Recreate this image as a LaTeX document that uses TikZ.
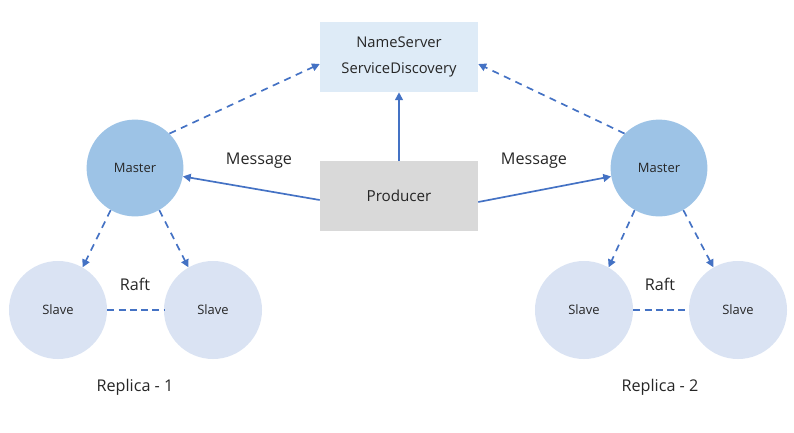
\documentclass[tikz,border=0pt]{standalone}
\usepackage{fontspec}
\setmainfont{Open Sans}
\usetikzlibrary{arrows.meta}
\definecolor{linkblue}{HTML}{4472C4}
\definecolor{masterfill}{HTML}{9DC3E6}
\definecolor{slavefill}{HTML}{DAE3F3}
\definecolor{nsfill}{HTML}{DEEBF7}
\definecolor{prodfill}{HTML}{D9D9D9}
\definecolor{txt}{HTML}{262626}
\begin{document}
\begin{tikzpicture}[x=0.025cm, y=-0.025cm,
    every node/.style={text=txt},
    box/.style={minimum width=3.95cm, minimum height=1.75cm, inner sep=0pt, align=center},
    master/.style={circle, fill=masterfill, minimum size=2.42cm, inner sep=0pt, font=\fontsize{9.2}{11}\selectfont},
    slave/.style={circle, fill=slavefill, minimum size=2.45cm, inner sep=0pt, font=\fontsize{9.2}{11}\selectfont},
    link/.style={draw=linkblue, line width=1.2pt, -{Triangle[length=5.5pt,width=5.5pt]}},
    dlink/.style={link, dash pattern=on 5pt off 4pt},
    lbl/.style={font=\fontsize{11.5}{13}\selectfont}]
    \useasboundingbox (0,0) rectangle (794,433);

    % центральные блоки
    \node[box, fill=nsfill, font=\fontsize{10.5}{13}\selectfont] (ns) at (399,57) {NameServer\\[6pt]ServiceDiscovery};
    \node[box, fill=prodfill, font=\fontsize{10.8}{13}\selectfont] (producer) at (399,196) {Producer};

    % Replica - 1
    \node[master] (masterL) at (135,168) {Master};
    \node[slave] (slaveLa) at (58,310) {Slave};
    \node[slave] (slaveLb) at (213,310) {Slave};
    \node[lbl] (raftL) at (135,284) {Raft};
    \node[lbl] (repL) at (135,387) {Replica - 1};

    % Replica - 2
    \node[master] (masterR) at (659,168) {Master};
    \node[slave] (slaveRa) at (584,310) {Slave};
    \node[slave] (slaveRb) at (738,310) {Slave};
    \node[lbl] (raftR) at (660,284) {Raft};
    \node[lbl] (repR) at (660,387) {Replica - 2};

    \node[lbl] (msgL) at (259,161) {Message};
    \node[lbl] (msgR) at (534,161) {Message};

    % связи
    \draw[link] (producer.north) -- (ns.south);
    \draw[link] (producer.west |- 0,200) -- (masterL.-10);
    \draw[link] (producer.east |- 0,202) -- (masterR.190);
    \draw[dlink] (masterL.45) -- (ns.west |- 0,64);
    \draw[dlink] (masterR.135) -- (ns.east |- 0,64);
    \foreach \m/\a/\b in {masterL/slaveLa/slaveLb, masterR/slaveRa/slaveRb} {
        \draw[dlink] (\m.240) -- (\a.60);
        \draw[dlink] (\m.300) -- (\b.120);
    }
    \draw[linkblue, line width=1.2pt, dash pattern=on 5pt off 3pt] (slaveLa) -- (slaveLb);
    \draw[linkblue, line width=1.2pt, dash pattern=on 5pt off 3pt] (slaveRa) -- (slaveRb);
\end{tikzpicture}
\end{document}
